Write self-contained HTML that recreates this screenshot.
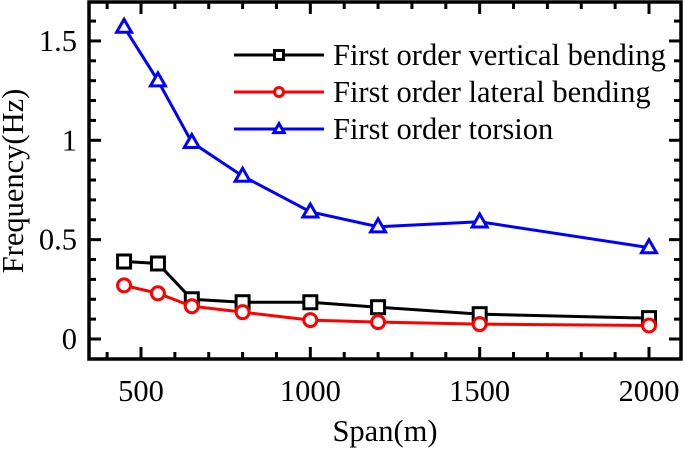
<!DOCTYPE html>
<html><head><meta charset="utf-8"><style>
body{margin:0;background:#fff;}
svg{display:block;font-family:"Liberation Serif",serif;}
</style></head><body>
<svg id="chart" width="685" height="449" viewBox="0 0 685 449" xmlns="http://www.w3.org/2000/svg"></svg>
<script>
const spans = [450, 550, 650, 800, 1000, 1200, 1500, 2000];
const vertical = [0.39, 0.38, 0.20, 0.185, 0.185, 0.16, 0.125, 0.105];
const lateral = [0.27, 0.23, 0.165, 0.135, 0.095, 0.085, 0.075, 0.068];
const torsion = [1.57, 1.30, 0.99, 0.82, 0.64, 0.565, 0.59, 0.46];
const xTicks = [500, 1000, 1500, 2000];
const yTicks = [0, 0.5, 1, 1.5];
const yTickLabels = ["0", "0.5", "1", "1.5"];

const NS = "http://www.w3.org/2000/svg";
const svg = document.getElementById('chart');
const L = 89, R = 681, T = 2, B = 359;
const FS = 'font-size:30.5px';
const xs = v => 141 + (v - 500) * (508 / 1500);
const ys = v => 339 - v * 198.7;
function mk(tag, attrs, parent) {
  const e = document.createElementNS(NS, tag);
  for (const k in attrs) e.setAttribute(k, attrs[k]);
  (parent || svg).appendChild(e);
  return e;
}
const ticks = mk('g', {stroke: '#000', 'stroke-width': 3});


for (let v = 400; v <= 2100; v += 100) {
  const x = xs(v); if (x <= L + 2 || x >= R - 2) continue;
  const len = v % 500 === 0 ? 12 : 7;
  mk('line', {x1: x, x2: x, y1: B, y2: B - len}, ticks);
  mk('line', {x1: x, x2: x, y1: T, y2: T + len}, ticks);
}
for (let i = -1; i <= 17; i++) {
  const v = i / 10, y = ys(v); if (y <= T + 2 || y >= B - 2) continue;
  const len = i % 5 === 0 ? 12 : 7;
  mk('line', {x1: L, x2: L + len, y1: y, y2: y}, ticks);
  mk('line', {x1: R, x2: R - len, y1: y, y2: y}, ticks);
}
const frame = mk('rect', {x: L, y: T, width: R - L, height: B - T, fill: 'none', stroke: '#000', 'stroke-width': 3.5});


xTicks.forEach(v => {
  const t = mk('text', {x: xs(v), y: 401, style: FS, 'text-anchor': 'middle'});
  
  
  t.textContent = v;
});
yTicks.forEach((v, i) => {
  const t = mk('text', {x: 77, y: ys(v) + 10, style: FS, 'text-anchor': 'end'});
  
  
  t.textContent = yTickLabels[i];
});
const xt = mk('text', {x: 385, y: 441, style: FS, 'text-anchor': 'middle'});


xt.textContent = 'Span(m)';
const yt = mk('text', {x: 0, y: 0, style: FS, 'text-anchor': 'middle', transform: 'translate(23,181) rotate(-90)'});


yt.textContent = 'Frequency(Hz)';

function marker(g, type, x, y, color, s) {
  if (type === 'square') mk('rect', {x: x - s, y: y - s, width: 2 * s, height: 2 * s, fill: '#fff', stroke: color, 'stroke-width': 3}, g);
  else if (type === 'circle') mk('circle', {cx: x, cy: y, r: s, fill: '#fff', stroke: color, 'stroke-width': 3}, g);
  else mk('polygon', {points: `${x},${y - s * 1.2} ${x - s * 1.15},${y + s * 0.8} ${x + s * 1.15},${y + s * 0.8}`, fill: '#fff', stroke: color, 'stroke-width': 3}, g);
}
const series = [
  {name: 'vertical', vals: vertical, color: '#000', m: 'square', label: 'First order vertical bending'},
  {name: 'lateral', vals: lateral, color: '#f00', m: 'circle', label: 'First order lateral bending'},
  {name: 'torsion', vals: torsion, color: '#00f', m: 'triangle', label: 'First order torsion'}
];
series.forEach((s, k) => {
  const g = mk('g', {});
  
  
  mk('polyline', {points: spans.map((x, i) => xs(x) + ',' + ys(s.vals[i])).join(' '), fill: 'none', stroke: s.color, 'stroke-width': 3}, g);
  spans.forEach((x, i) => marker(g, s.m, xs(x), ys(s.vals[i]), s.color, 6.5));
  const ly = 55 + k * 37;
  const lg = mk('g', {});
  
  
  mk('line', {x1: 234, x2: 324, y1: ly, y2: ly, stroke: s.color, 'stroke-width': 3}, lg);
  marker(lg, s.m, 279, ly, s.color, 4.5);
  const t = mk('text', {x: 333, y: ly + 10, style: FS}, lg);
  t.textContent = s.label;
});
</script>
</body></html>
